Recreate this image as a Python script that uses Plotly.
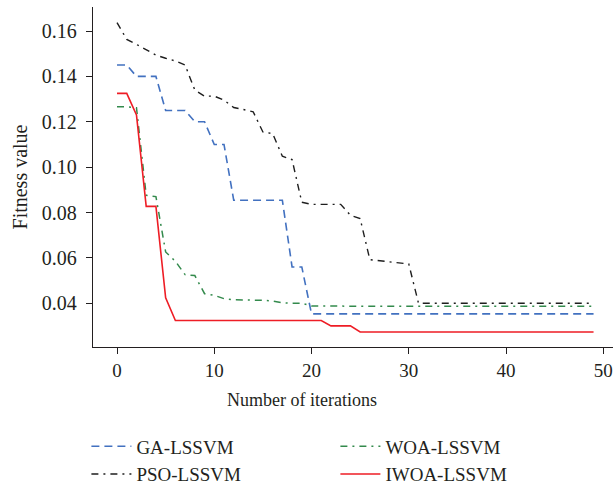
import plotly.graph_objects as go

iterations = list(range(50))

ga_lssvm = [0.145, 0.145, 0.140, 0.140, 0.140, 0.125, 0.125, 0.125, 0.120, 0.120,
            0.110, 0.110, 0.0854, 0.0854, 0.0854, 0.0854, 0.0854, 0.0854, 0.056, 0.056] + [0.0353] * 30

pso_lssvm = [0.1637, 0.1563, 0.1541, 0.1519, 0.1494, 0.148, 0.1468, 0.145, 0.134, 0.1313,
             0.1313, 0.1295, 0.1263, 0.1254, 0.1244, 0.1155, 0.1148, 0.1048, 0.1033, 0.0845,
             0.0836, 0.0836, 0.0836, 0.0836, 0.0788, 0.0773, 0.0592, 0.0587, 0.0584, 0.058,
             0.0573] + [0.040] * 19

woa_lssvm = [0.1266, 0.1266, 0.1262, 0.0876, 0.087, 0.0626, 0.0585, 0.0526, 0.0522, 0.0442,
             0.0435, 0.042, 0.0415, 0.0415, 0.0415, 0.0413, 0.041, 0.0402, 0.040, 0.040,
             0.0388] + [0.0387] * 29

iwoa_lssvm = [0.1325, 0.1325, 0.123, 0.0827, 0.0827, 0.0424] + [0.0324] * 16 + \
             [0.030, 0.030, 0.030] + [0.0273] * 25

x_ticks = [0, 10, 20, 30, 40, 50]
y_ticks = [0.04, 0.06, 0.08, 0.10, 0.12, 0.14, 0.16]

FONT = "Liberation Serif"
INK = "#231F20"

fig = go.Figure()
fig.add_trace(go.Scatter(x=iterations, y=ga_lssvm, mode="lines", name="GA-LSSVM",
                         line=dict(color="#4271C0", width=1.6, dash="8px,5px")))
fig.add_trace(go.Scatter(x=iterations, y=woa_lssvm, mode="lines", name="WOA-LSSVM",
                         line=dict(color="#338A4C", width=1.5, dash="7px,5px,2px,5px")))
fig.add_trace(go.Scatter(x=iterations, y=pso_lssvm, mode="lines", name="PSO-LSSVM",
                         line=dict(color="#1E1E1E", width=1.4, dash="7px,5px,2px,5px")))
fig.add_trace(go.Scatter(x=iterations, y=iwoa_lssvm, mode="lines", name="IWOA-LSSVM",
                         line=dict(color="#EE1D25", width=1.6)))

fig.update_layout(
    width=613, height=485,
    margin=dict(l=93, r=0, t=7, b=138, autoexpand=False),
    paper_bgcolor="white", plot_bgcolor="white",
    font=dict(family=FONT, size=18, color=INK),
    showlegend=True,
    legend=dict(orientation="h", x=-0.0127, y=-0.2364, xanchor="left", yanchor="top",
                entrywidth=194, entrywidthmode="pixels", itemwidth=40,
                font=dict(family=FONT, size=19, color=INK),
                bgcolor="rgba(0,0,0,0)", traceorder="normal"),
    xaxis=dict(range=[-2.47, 51.0], tickvals=x_ticks, showgrid=False, zeroline=False,
               showline=True, linecolor=INK, linewidth=1.3,
               ticks="outside", ticklen=6, tickcolor=INK, tickwidth=1.3,
               tickfont=dict(family=FONT, size=19)),
    yaxis=dict(range=[0.0207, 0.1706], tickvals=y_ticks, tickformat=".2f", showgrid=False,
               zeroline=False, showline=True, linecolor=INK, linewidth=1.3,
               ticks="outside", ticklen=6, tickcolor=INK, tickwidth=1.3,
               ticklabelstandoff=5,
               tickfont=dict(family=FONT, size=20),
               title=dict(text="Fitness value", font=dict(family=FONT, size=20), standoff=8)),
    annotations=[dict(text="Number of iterations", xref="paper", yref="paper",
                      x=0.4025, y=-0.157, xanchor="center", yanchor="middle",
                      showarrow=False, font=dict(family=FONT, size=18))],
)

fig.write_html("out.html")
